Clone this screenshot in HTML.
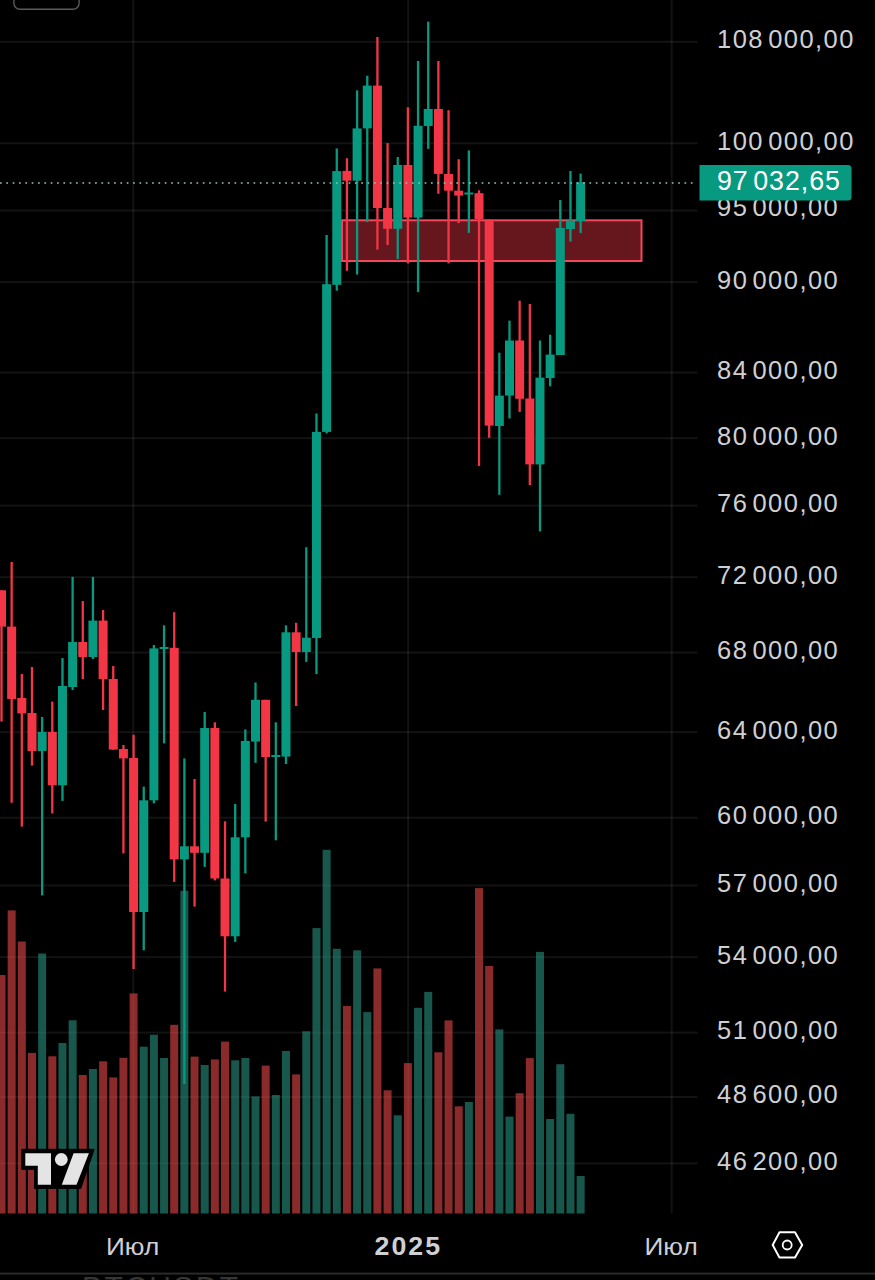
<!DOCTYPE html>
<html><head><meta charset="utf-8"><title>BTC chart</title><style>
html,body{margin:0;padding:0;background:#000;}
body{width:875px;height:1280px;overflow:hidden;position:relative;}
svg{position:absolute;left:0;top:0;display:block;}
.pl{font-family:"Liberation Sans",Arial,sans-serif;font-size:25.5px;fill:#cfd0d3;letter-spacing:1.45px;}
.tl{font-family:"Liberation Sans",Arial,sans-serif;font-size:24.5px;fill:#cfd0d3;letter-spacing:0px;}
.sp{letter-spacing:-0.9px;}
</style></head><body>
<svg width="875" height="1280" viewBox="0 0 875 1280">
<rect x="0" y="0" width="875" height="1280" fill="#000"/>
<g fill="rgba(255,255,255,0.074)">
<rect x="0" y="40.8" width="697.5" height="2"/>
<rect x="0" y="142.3" width="697.5" height="2"/>
<rect x="0" y="209.5" width="697.5" height="2"/>
<rect x="0" y="281.1" width="697.5" height="2"/>
<rect x="0" y="371.5" width="697.5" height="2"/>
<rect x="0" y="437.2" width="697.5" height="2"/>
<rect x="0" y="504.6" width="697.5" height="2"/>
<rect x="0" y="576.2" width="697.5" height="2"/>
<rect x="0" y="651.5" width="697.5" height="2"/>
<rect x="0" y="731.2" width="697.5" height="2"/>
<rect x="0" y="816.7" width="697.5" height="2"/>
<rect x="0" y="884.5" width="697.5" height="2"/>
<rect x="0" y="956.1" width="697.5" height="2"/>
<rect x="0" y="1031.6" width="697.5" height="2"/>
<rect x="0" y="1096" width="697.5" height="2"/>
<rect x="0" y="1162.4" width="697.5" height="2"/>
<rect x="132.3" y="0" width="2" height="1213.5"/>
<rect x="407.2" y="0" width="2" height="1213.5"/>
<rect x="670.7" y="0" width="2" height="1213.5"/>
</g>
<rect x="13.9" y="-20" width="65.2" height="29.2" rx="6" ry="6" fill="none" stroke="#5a5a5a" stroke-width="1.4"/>
<rect x="-2.5" y="975" width="8" height="238.5" fill="rgba(230,70,70,0.6)"/>
<rect x="7.66" y="910.4" width="8" height="303.1" fill="rgba(230,70,70,0.6)"/>
<rect x="17.82" y="941.5" width="8" height="272" fill="rgba(230,70,70,0.6)"/>
<rect x="27.98" y="1052.9" width="8" height="160.6" fill="rgba(230,70,70,0.6)"/>
<rect x="38.14" y="953.5" width="8" height="260" fill="rgba(40,147,127,0.6)"/>
<rect x="48.3" y="1056.3" width="8" height="157.2" fill="rgba(230,70,70,0.6)"/>
<rect x="58.46" y="1043" width="8" height="170.5" fill="rgba(40,147,127,0.6)"/>
<rect x="68.62" y="1020.3" width="8" height="193.2" fill="rgba(40,147,127,0.6)"/>
<rect x="78.78" y="1075" width="8" height="138.5" fill="rgba(230,70,70,0.6)"/>
<rect x="88.94" y="1069" width="8" height="144.5" fill="rgba(40,147,127,0.6)"/>
<rect x="99.1" y="1061.3" width="8" height="152.2" fill="rgba(230,70,70,0.6)"/>
<rect x="109.26" y="1077.4" width="8" height="136.1" fill="rgba(230,70,70,0.6)"/>
<rect x="119.42" y="1057.8" width="8" height="155.7" fill="rgba(230,70,70,0.6)"/>
<rect x="129.58" y="993.4" width="8" height="220.1" fill="rgba(230,70,70,0.6)"/>
<rect x="139.74" y="1046.7" width="8" height="166.8" fill="rgba(40,147,127,0.6)"/>
<rect x="149.9" y="1034.7" width="8" height="178.8" fill="rgba(40,147,127,0.6)"/>
<rect x="160.06" y="1058" width="8" height="155.5" fill="rgba(40,147,127,0.6)"/>
<rect x="170.22" y="1024.8" width="8" height="188.7" fill="rgba(230,70,70,0.6)"/>
<rect x="180.38" y="890.8" width="8" height="322.7" fill="rgba(40,147,127,0.6)"/>
<rect x="190.54" y="1056.6" width="8" height="156.9" fill="rgba(230,70,70,0.6)"/>
<rect x="200.7" y="1065" width="8" height="148.5" fill="rgba(40,147,127,0.6)"/>
<rect x="210.86" y="1059.4" width="8" height="154.1" fill="rgba(230,70,70,0.6)"/>
<rect x="221.02" y="1041.6" width="8" height="171.9" fill="rgba(230,70,70,0.6)"/>
<rect x="231.18" y="1060.3" width="8" height="153.2" fill="rgba(40,147,127,0.6)"/>
<rect x="241.34" y="1058" width="8" height="155.5" fill="rgba(40,147,127,0.6)"/>
<rect x="251.5" y="1096.5" width="8" height="117" fill="rgba(40,147,127,0.6)"/>
<rect x="261.66" y="1065.6" width="8" height="147.9" fill="rgba(230,70,70,0.6)"/>
<rect x="271.82" y="1095" width="8" height="118.5" fill="rgba(40,147,127,0.6)"/>
<rect x="281.98" y="1051" width="8" height="162.5" fill="rgba(40,147,127,0.6)"/>
<rect x="292.14" y="1074.4" width="8" height="139.1" fill="rgba(230,70,70,0.6)"/>
<rect x="302.3" y="1031.3" width="8" height="182.2" fill="rgba(40,147,127,0.6)"/>
<rect x="312.46" y="928.1" width="8" height="285.4" fill="rgba(40,147,127,0.6)"/>
<rect x="322.62" y="849.8" width="8" height="363.7" fill="rgba(40,147,127,0.6)"/>
<rect x="332.78" y="948.8" width="8" height="264.7" fill="rgba(40,147,127,0.6)"/>
<rect x="342.94" y="1006" width="8" height="207.5" fill="rgba(230,70,70,0.6)"/>
<rect x="353.1" y="950.3" width="8" height="263.2" fill="rgba(40,147,127,0.6)"/>
<rect x="363.26" y="1012.1" width="8" height="201.4" fill="rgba(40,147,127,0.6)"/>
<rect x="373.42" y="968.4" width="8" height="245.1" fill="rgba(230,70,70,0.6)"/>
<rect x="383.58" y="1090.3" width="8" height="123.2" fill="rgba(230,70,70,0.6)"/>
<rect x="393.74" y="1115.3" width="8" height="98.2" fill="rgba(40,147,127,0.6)"/>
<rect x="403.9" y="1063.1" width="8" height="150.4" fill="rgba(230,70,70,0.6)"/>
<rect x="414.06" y="1007.8" width="8" height="205.7" fill="rgba(40,147,127,0.6)"/>
<rect x="424.22" y="991.9" width="8" height="221.6" fill="rgba(40,147,127,0.6)"/>
<rect x="434.38" y="1052.3" width="8" height="161.2" fill="rgba(230,70,70,0.6)"/>
<rect x="444.54" y="1020.4" width="8" height="193.1" fill="rgba(230,70,70,0.6)"/>
<rect x="454.7" y="1106.3" width="8" height="107.2" fill="rgba(230,70,70,0.6)"/>
<rect x="464.86" y="1102" width="8" height="111.5" fill="rgba(40,147,127,0.6)"/>
<rect x="475.02" y="888.1" width="8" height="325.4" fill="rgba(230,70,70,0.6)"/>
<rect x="485.18" y="966" width="8" height="247.5" fill="rgba(230,70,70,0.6)"/>
<rect x="495.34" y="1029.4" width="8" height="184.1" fill="rgba(40,147,127,0.6)"/>
<rect x="505.5" y="1116.6" width="8" height="96.9" fill="rgba(40,147,127,0.6)"/>
<rect x="515.66" y="1093.2" width="8" height="120.3" fill="rgba(230,70,70,0.6)"/>
<rect x="525.82" y="1058.1" width="8" height="155.4" fill="rgba(230,70,70,0.6)"/>
<rect x="535.98" y="951.9" width="8" height="261.6" fill="rgba(40,147,127,0.6)"/>
<rect x="546.14" y="1119" width="8" height="94.5" fill="rgba(40,147,127,0.6)"/>
<rect x="556.3" y="1064.2" width="8" height="149.3" fill="rgba(40,147,127,0.6)"/>
<rect x="566.46" y="1113.8" width="8" height="99.7" fill="rgba(40,147,127,0.6)"/>
<rect x="576.62" y="1176" width="8" height="37.5" fill="rgba(40,147,127,0.6)"/>
<rect x="342" y="220.3" width="299.5" height="40.7" fill="rgba(242,54,69,0.42)" stroke="#f0475c" stroke-width="2"/>
<rect x="0.35" y="590.3" width="2.3" height="131.3" fill="#f23645"/>
<rect x="-3" y="590.3" width="9" height="36.3" fill="#f23645"/>
<rect x="10.51" y="562" width="2.3" height="240.8" fill="#f23645"/>
<rect x="7.16" y="626.6" width="9" height="72.4" fill="#f23645"/>
<rect x="20.67" y="674" width="2.3" height="152.6" fill="#f23645"/>
<rect x="17.32" y="698" width="9" height="15.4" fill="#f23645"/>
<rect x="30.83" y="667" width="2.3" height="98.6" fill="#f23645"/>
<rect x="27.48" y="713" width="9" height="38" fill="#f23645"/>
<rect x="40.99" y="717" width="2.3" height="178.4" fill="#089981"/>
<rect x="37.64" y="732" width="9" height="19" fill="#089981"/>
<rect x="51.15" y="701.6" width="2.3" height="111.8" fill="#f23645"/>
<rect x="47.8" y="732" width="9" height="53.3" fill="#f23645"/>
<rect x="61.31" y="658" width="2.3" height="142.9" fill="#089981"/>
<rect x="57.96" y="686" width="9" height="99.3" fill="#089981"/>
<rect x="71.47" y="576.8" width="2.3" height="113.2" fill="#089981"/>
<rect x="68.12" y="642" width="9" height="45" fill="#089981"/>
<rect x="81.63" y="601" width="2.3" height="78" fill="#f23645"/>
<rect x="78.28" y="642" width="9" height="15" fill="#f23645"/>
<rect x="91.79" y="576.8" width="2.3" height="82.2" fill="#089981"/>
<rect x="88.44" y="620.6" width="9" height="36.4" fill="#089981"/>
<rect x="101.95" y="610" width="2.3" height="100" fill="#f23645"/>
<rect x="98.6" y="620.6" width="9" height="58.4" fill="#f23645"/>
<rect x="112.11" y="666" width="2.3" height="83.6" fill="#f23645"/>
<rect x="108.76" y="679" width="9" height="70.6" fill="#f23645"/>
<rect x="122.27" y="745" width="2.3" height="108.4" fill="#f23645"/>
<rect x="118.92" y="749" width="9" height="9.4" fill="#f23645"/>
<rect x="132.43" y="734.7" width="2.3" height="234.3" fill="#f23645"/>
<rect x="129.08" y="758" width="9" height="154" fill="#f23645"/>
<rect x="142.59" y="786.6" width="2.3" height="163.7" fill="#089981"/>
<rect x="139.24" y="800.3" width="9" height="111.7" fill="#089981"/>
<rect x="152.75" y="645" width="2.3" height="158.4" fill="#089981"/>
<rect x="149.4" y="648.4" width="9" height="151.9" fill="#089981"/>
<rect x="162.91" y="625.3" width="2.3" height="118.1" fill="#089981"/>
<rect x="159.56" y="647" width="9" height="2" fill="#089981"/>
<rect x="173.07" y="612.2" width="2.3" height="269.7" fill="#f23645"/>
<rect x="169.72" y="647.8" width="9" height="211.6" fill="#f23645"/>
<rect x="183.23" y="758.4" width="2.3" height="325.6" fill="#089981"/>
<rect x="179.88" y="846.3" width="9" height="13.1" fill="#089981"/>
<rect x="193.39" y="779" width="2.3" height="127.6" fill="#f23645"/>
<rect x="190.04" y="846.3" width="9" height="6.5" fill="#f23645"/>
<rect x="203.55" y="712" width="2.3" height="154.9" fill="#089981"/>
<rect x="200.2" y="728" width="9" height="124.8" fill="#089981"/>
<rect x="213.71" y="722.3" width="2.3" height="158.1" fill="#f23645"/>
<rect x="210.36" y="728" width="9" height="150.5" fill="#f23645"/>
<rect x="223.87" y="821.3" width="2.3" height="170.3" fill="#f23645"/>
<rect x="220.52" y="878.5" width="9" height="57.8" fill="#f23645"/>
<rect x="234.03" y="804" width="2.3" height="137.9" fill="#089981"/>
<rect x="230.68" y="837.3" width="9" height="99" fill="#089981"/>
<rect x="244.19" y="729.4" width="2.3" height="144" fill="#089981"/>
<rect x="240.84" y="741" width="9" height="96.3" fill="#089981"/>
<rect x="254.35" y="682.5" width="2.3" height="80.3" fill="#089981"/>
<rect x="251" y="699.8" width="9" height="41.8" fill="#089981"/>
<rect x="264.51" y="699.8" width="2.3" height="121.8" fill="#f23645"/>
<rect x="261.16" y="699.8" width="9" height="57.2" fill="#f23645"/>
<rect x="274.67" y="722.3" width="2.3" height="118" fill="#089981"/>
<rect x="271.32" y="755" width="9" height="2" fill="#089981"/>
<rect x="284.83" y="625.3" width="2.3" height="138.7" fill="#089981"/>
<rect x="281.48" y="632.3" width="9" height="124.3" fill="#089981"/>
<rect x="294.99" y="622.8" width="2.3" height="83.2" fill="#f23645"/>
<rect x="291.64" y="632.3" width="9" height="19.7" fill="#f23645"/>
<rect x="305.15" y="547.2" width="2.3" height="114.7" fill="#089981"/>
<rect x="301.8" y="637.7" width="9" height="14.3" fill="#089981"/>
<rect x="315.31" y="413.5" width="2.3" height="260.6" fill="#089981"/>
<rect x="311.96" y="431.9" width="9" height="206.1" fill="#089981"/>
<rect x="325.47" y="235" width="2.3" height="198.4" fill="#089981"/>
<rect x="322.12" y="284.2" width="9" height="147.7" fill="#089981"/>
<rect x="335.63" y="148.4" width="2.3" height="142.3" fill="#089981"/>
<rect x="332.28" y="171.1" width="9" height="113.7" fill="#089981"/>
<rect x="345.79" y="158.2" width="2.3" height="112.6" fill="#f23645"/>
<rect x="342.44" y="170.9" width="9" height="9.8" fill="#f23645"/>
<rect x="355.95" y="90.3" width="2.3" height="184.2" fill="#089981"/>
<rect x="352.6" y="128.4" width="9" height="52.3" fill="#089981"/>
<rect x="366.11" y="75.7" width="2.3" height="146.4" fill="#089981"/>
<rect x="362.76" y="85.6" width="9" height="42.8" fill="#089981"/>
<rect x="376.27" y="37" width="2.3" height="212.6" fill="#f23645"/>
<rect x="372.92" y="85.6" width="9" height="122.4" fill="#f23645"/>
<rect x="386.43" y="143.1" width="2.3" height="101.9" fill="#f23645"/>
<rect x="383.08" y="208" width="9" height="20.8" fill="#f23645"/>
<rect x="396.59" y="157" width="2.3" height="102" fill="#089981"/>
<rect x="393.24" y="165" width="9" height="63.8" fill="#089981"/>
<rect x="406.75" y="107.3" width="2.3" height="156.1" fill="#f23645"/>
<rect x="403.4" y="165" width="9" height="52.6" fill="#f23645"/>
<rect x="416.91" y="61" width="2.3" height="231.1" fill="#089981"/>
<rect x="413.56" y="125.8" width="9" height="91.8" fill="#089981"/>
<rect x="427.07" y="21.7" width="2.3" height="127.2" fill="#089981"/>
<rect x="423.72" y="109" width="9" height="17" fill="#089981"/>
<rect x="437.23" y="61" width="2.3" height="132.8" fill="#f23645"/>
<rect x="433.88" y="109" width="9" height="64.9" fill="#f23645"/>
<rect x="447.39" y="110.2" width="2.3" height="153.2" fill="#f23645"/>
<rect x="444.04" y="173.9" width="9" height="16.8" fill="#f23645"/>
<rect x="457.55" y="159.2" width="2.3" height="63.9" fill="#f23645"/>
<rect x="454.2" y="190.7" width="9" height="4.9" fill="#f23645"/>
<rect x="467.71" y="150.4" width="2.3" height="82.5" fill="#089981"/>
<rect x="464.36" y="192.5" width="9" height="2" fill="#089981"/>
<rect x="477.87" y="190.3" width="2.3" height="275.7" fill="#f23645"/>
<rect x="474.52" y="193.2" width="9" height="25.8" fill="#f23645"/>
<rect x="488.03" y="219.6" width="2.3" height="218.2" fill="#f23645"/>
<rect x="484.68" y="219.6" width="9" height="206" fill="#f23645"/>
<rect x="498.19" y="352.7" width="2.3" height="142.1" fill="#089981"/>
<rect x="494.84" y="395.6" width="9" height="30.4" fill="#089981"/>
<rect x="508.35" y="320.6" width="2.3" height="97.9" fill="#089981"/>
<rect x="505" y="340.5" width="9" height="55.1" fill="#089981"/>
<rect x="518.51" y="300.7" width="2.3" height="111.2" fill="#f23645"/>
<rect x="515.16" y="340.5" width="9" height="58.3" fill="#f23645"/>
<rect x="528.67" y="304" width="2.3" height="181" fill="#f23645"/>
<rect x="525.32" y="398.5" width="9" height="65.9" fill="#f23645"/>
<rect x="538.83" y="340.5" width="2.3" height="191" fill="#089981"/>
<rect x="535.48" y="377.6" width="9" height="86.8" fill="#089981"/>
<rect x="548.99" y="334.7" width="2.3" height="51.6" fill="#089981"/>
<rect x="545.64" y="354.6" width="9" height="23.4" fill="#089981"/>
<rect x="559.15" y="200" width="2.3" height="155" fill="#089981"/>
<rect x="555.8" y="228" width="9" height="127" fill="#089981"/>
<rect x="569.31" y="171" width="2.3" height="70.6" fill="#089981"/>
<rect x="565.96" y="220.5" width="9" height="8.5" fill="#089981"/>
<rect x="579.47" y="173.6" width="2.3" height="59.4" fill="#089981"/>
<rect x="576.12" y="182.3" width="9" height="38.7" fill="#089981"/>
<line x1="0" y1="183" x2="693.5" y2="183" stroke="#8fc6b6" stroke-width="1.7" stroke-dasharray="1.7 4.638" stroke-dashoffset="0"/>
<polygon points="21.7,1149.3 94.2,1149.3 80.8,1188.4 34.5,1188.4 34.5,1169.3 21.7,1169.3" fill="#000" stroke="#000" stroke-width="1" stroke-linejoin="round"/>
<g fill="#e4e4e4">
<polygon points="25.3,1153.2 51,1153.2 51,1184.8 37.8,1184.8 37.8,1165.7 25.3,1165.7"/>
<circle cx="61.3" cy="1159.5" r="6.4"/>
<polygon points="73.6,1153.2 88.9,1153.2 76.5,1184.8 61.8,1184.8"/>
</g>
<text class="pl" x="717" y="48.2">108<tspan class="sp"> </tspan>000,00</text>
<text class="pl" x="717" y="149.7">100<tspan class="sp"> </tspan>000,00</text>
<text class="pl" x="717" y="216.4">95<tspan class="sp"> </tspan>000,00</text>
<text class="pl" x="717" y="288.5">90<tspan class="sp"> </tspan>000,00</text>
<text class="pl" x="717" y="378.9">84<tspan class="sp"> </tspan>000,00</text>
<text class="pl" x="717" y="444.6">80<tspan class="sp"> </tspan>000,00</text>
<text class="pl" x="717" y="512">76<tspan class="sp"> </tspan>000,00</text>
<text class="pl" x="717" y="583.6">72<tspan class="sp"> </tspan>000,00</text>
<text class="pl" x="717" y="658.9">68<tspan class="sp"> </tspan>000,00</text>
<text class="pl" x="717" y="738.6">64<tspan class="sp"> </tspan>000,00</text>
<text class="pl" x="717" y="824.1">60<tspan class="sp"> </tspan>000,00</text>
<text class="pl" x="717" y="891.9">57<tspan class="sp"> </tspan>000,00</text>
<text class="pl" x="717" y="963.5">54<tspan class="sp"> </tspan>000,00</text>
<text class="pl" x="717" y="1039">51<tspan class="sp"> </tspan>000,00</text>
<text class="pl" x="717" y="1103.4">48<tspan class="sp"> </tspan>600,00</text>
<text class="pl" x="717" y="1169.8">46<tspan class="sp"> </tspan>200,00</text>
<path d="M699.5,165 H848 a3.5,3.5 0 0 1 3.5,3.5 V197 a3.5,3.5 0 0 1 -3.5,3.5 H699.5 Z" fill="#089981"/>
<text class="pl" x="717" y="190.3" style="fill:#fff;font-size:26.8px;letter-spacing:0.95px">97<tspan class="sp"> </tspan>032,65</text>
<text class="tl" transform="translate(106,1254.6) scale(1.07,1)">Июл</text>
<text class="tl" transform="translate(644.5,1254.6) scale(1.07,1)">Июл</text>
<text class="tl" transform="translate(374.5,1254.6) scale(1.07,1)" style="font-weight:bold;font-size:25px;letter-spacing:1.9px">2025</text>
<polygon points="772.7,1245 779.5,1232.3 795,1232.3 802.2,1245 795,1257.6 779.5,1257.6" fill="none" stroke="#fff" stroke-width="2" stroke-linejoin="round"/>
<circle cx="787.2" cy="1245" r="4.5" fill="none" stroke="#fff" stroke-width="1.8"/>
<text x="82" y="1296.5" style="font-family:Liberation Sans,Arial,sans-serif;font-size:30px;fill:#363636;letter-spacing:2.4px">BTCUSDT</text>
<rect x="0" y="1272.6" width="875" height="2" fill="#2a2a2a"/>
</svg>
</body></html>
